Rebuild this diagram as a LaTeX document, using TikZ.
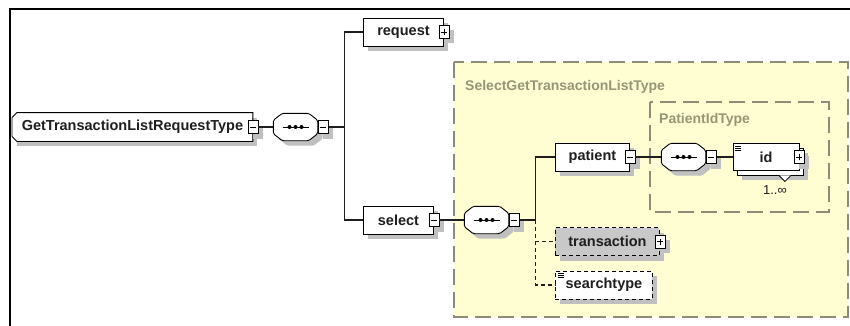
\documentclass[tikz,border=0pt]{standalone}
\usepackage{fontspec}
\setmainfont{Liberation Sans}
\usetikzlibrary{shadows,positioning}

\definecolor{shadowgray}{RGB}{192,192,192}
\definecolor{typeyellow}{RGB}{255,253,210}
\definecolor{typeborder}{RGB}{140,140,120}
\definecolor{typetext}{RGB}{150,150,120}
\definecolor{optgray}{RGB}{200,200,200}
\definecolor{inktext}{RGB}{30,30,30}

\tikzset{
  softshadow/.style={drop shadow={shadow xshift=5pt, shadow yshift=-5pt, fill=shadowgray, opacity=1}},
  flatelem/.style={draw, fill=white, line width=0.9pt, anchor=west,
    font=\bfseries\fontsize{14.5}{16}\selectfont, text=inktext,
    minimum height=28pt, inner sep=0pt},
  elem/.style={flatelem, softshadow},
  optelem/.style={elem, dash pattern=on 4pt off 3pt},
  textlines/.style={path picture={
    \foreach \dy in {2.5,4.5,6.5}
      \draw[solid, line width=0.7pt] ([xshift=2.5pt, yshift=-\dy pt]path picture bounding box.north west) -- ++(6pt,0pt);}},
  btn/.style={draw, solid, fill=white, line width=0.8pt, softshadow,
    minimum width=10pt, minimum height=13pt, inner sep=0pt},
  minusbtn/.style={btn, path picture={
    \draw[line width=0.8pt] ([xshift=-3pt]path picture bounding box.center) -- ++(6pt,0pt);}},
  plusbtn/.style={btn, path picture={
    \draw[line width=0.8pt] ([xshift=-3pt]path picture bounding box.center) -- ++(6pt,0pt);
    \draw[line width=0.8pt] ([yshift=-3pt]path picture bounding box.center) -- ++(0pt,6pt);}},
  seq/.style={minimum width=44pt, minimum height=27pt, inner sep=0pt},
  typebox/.style={draw=typeborder, fill=typeyellow, line width=1.2pt, dash pattern=on 16pt off 7pt},
  typelabel/.style={anchor=base west, inner sep=0pt, text=typetext,
    font=\bfseries\fontsize{14}{16}\selectfont},
  wire/.style={draw=inktext, line width=1.1pt},
  optwire/.style={wire, dash pattern=on 4pt off 3pt}
}

% octagon body of a sequence compositor, drawn round node #1
\newcommand{\seqframe}[1]{%
  \path[draw, fill=white, line width=0.9pt, rounded corners=1.5pt, softshadow]
    ([xshift=9pt]#1.north west) -- ([xshift=-9pt]#1.north east)
    -- ([yshift=-7pt]#1.north east) -- ([yshift=7pt]#1.south east)
    -- ([xshift=-9pt]#1.south east) -- ([xshift=9pt]#1.south west)
    -- ([yshift=7pt]#1.south west) -- ([yshift=-7pt]#1.north west) -- cycle;
  \draw[line width=0.9pt] ([xshift=-13pt]#1.center) -- ([xshift=13pt]#1.center);
  \foreach \dx in {-6,0,6}
    \fill ([xshift=\dx pt]#1.center) circle (2pt);
}

\begin{document}
\begin{tikzpicture}[x=1pt, y=-1pt]
\useasboundingbox (0,0) rectangle (850,326);
% frame
\draw[line width=2pt] (10,340) -- (10,9) -- (860,9);

% complex types
\draw[typebox] (454,62) rectangle (848,317);
\node[typelabel] (selecttype) at (465,91) {SelectGetTransactionListType};
\draw[typebox] (650,102) rectangle (829,212);
\node[typelabel] (patienttype) at (659,124) {PatientIdType};

% root element (cut corners on the left)
\node[elem, draw=none, minimum width=240pt] (root) at (12,127) {GetTransactionListRequestType\hspace{10pt}};
\fill[white] (root.north west) -- ([xshift=5pt]root.north west) -- ([yshift=-5pt]root.north west) -- cycle;
\fill[white] (root.south west) -- ([xshift=5pt]root.south west) -- ([yshift=5pt]root.south west) -- cycle;
\draw[line width=0.9pt] ([xshift=5pt]root.north west) -- (root.north east) -- (root.south east)
  -- ([xshift=5pt]root.south west) -- ([yshift=5pt]root.south west)
  -- ([yshift=-5pt]root.north west) -- cycle;
\node[minusbtn] (rootbtn) at (root.east) {};
\node[seq, right=15pt of rootbtn] (rootseq) {};
\seqframe{rootseq}
\node[minusbtn, right=0pt of rootseq] (rootseqbtn) {};
\coordinate[right=16pt of rootseqbtn] (fork1);

% children of the root
\node[elem, minimum width=80pt] (request) at (363,32) {request};
\node[plusbtn] (requestbtn) at (request.east) {};
\node[elem, minimum width=70pt] (select) at (363,220) {select};
\node[minusbtn] (selectbtn) at (select.east) {};
\node[seq, right=25pt of selectbtn] (selectseq) {};
\seqframe{selectseq}
\node[minusbtn, right=0pt of selectseq] (selectseqbtn) {};
\coordinate[right=16pt of selectseqbtn] (fork2);

% children of select
\node[elem, minimum width=74pt] (patient) at (555,157) {patient};
\node[minusbtn] (patientbtn) at (patient.east) {};
\node[optelem, fill=optgray, minimum width=104pt] (transaction) at (555,241.5) {transaction};
\node[plusbtn] (transactionbtn) at (transaction.east) {};
\node[optelem, textlines, minimum width=97pt] (searchtype) at (555,285) {searchtype};

% content of patient
\node[seq, right=26pt of patientbtn] (patientseq) {};
\seqframe{patientseq}
\node[minusbtn, right=0pt of patientseq] (patientseqbtn) {};
\node[elem, minimum width=66pt, minimum height=27pt] (idback) at (737,161.5) {};
\node[flatelem, textlines, minimum width=66pt, minimum height=27pt, right=16pt of patientseqbtn] (id) {id\hspace{6pt}};
\node[plusbtn] (idbtn) at (id.east) {};
\draw[fill=white, line width=0.8pt] ([xshift=-25pt]idback.south east) -- ++(6pt,-6pt) -- ++(6pt,6pt);
\node[font=\fontsize{13}{15}\selectfont, text=inktext, inner sep=0pt] (idmult) at (775,190) {1..∞};

% connectors
\draw[wire] (rootbtn.east) -- (rootseq.west);
\draw[wire] (rootseqbtn.east) -- (fork1);
\draw[wire] (request.west) -| (fork1) |- (select.west);
\draw[wire] (selectbtn.east) -- (selectseq.west);
\draw[wire] (selectseqbtn.east) -- (fork2);
\draw[wire] (patient.west) -| (fork2);
\draw[optwire] (fork2) |- (transaction.west);
\draw[optwire] (fork2) |- (searchtype.west);
\draw[wire] (patientbtn.east) -- (patientseq.west);
\draw[wire] (patientseqbtn.east) -- (id.west);
\end{tikzpicture}
\end{document}
